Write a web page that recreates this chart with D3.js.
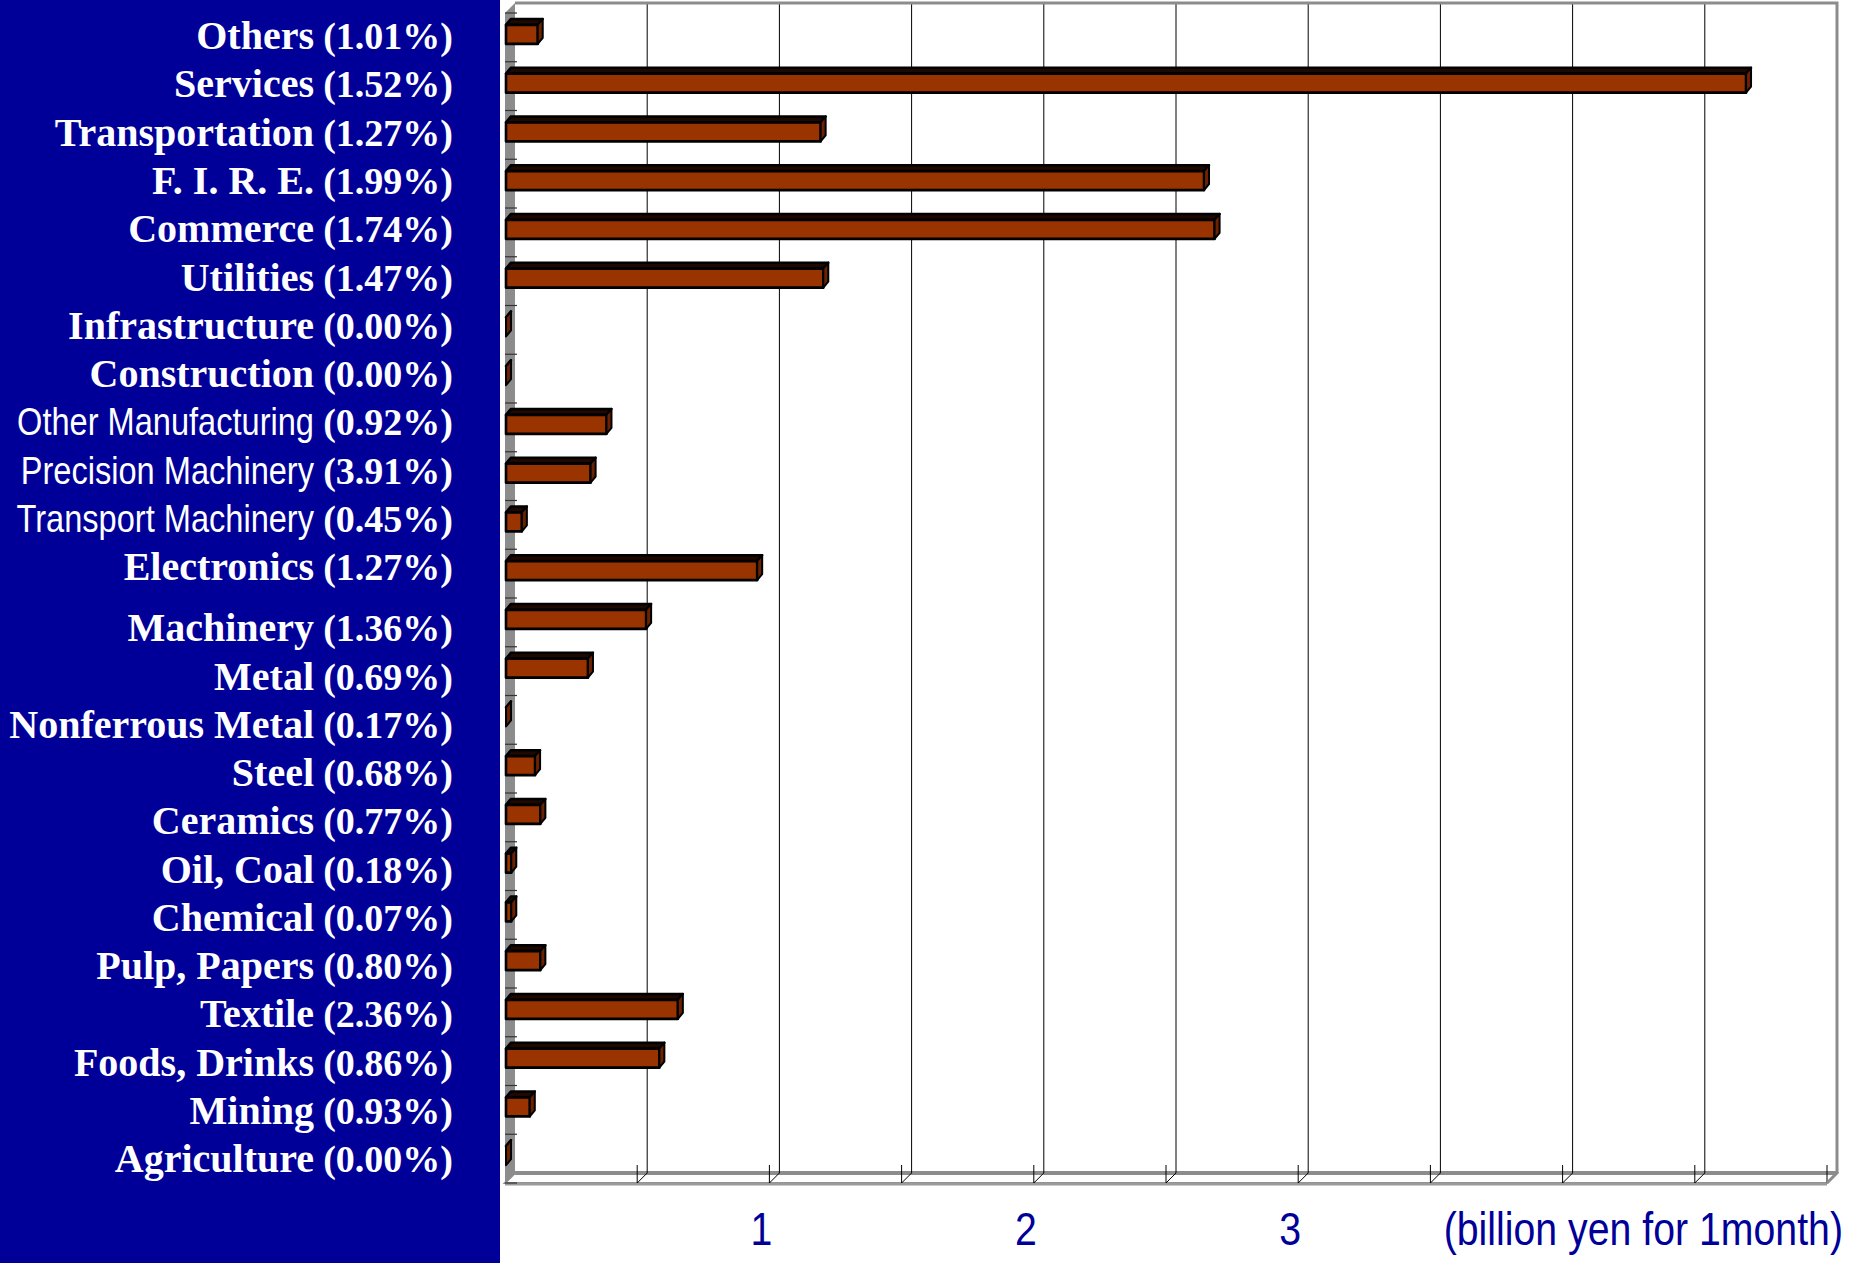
<!DOCTYPE html>
<html>
<head>
<meta charset="utf-8">
<script src="https://cdn.jsdelivr.net/npm/d3@7"></script>
<style>
  html, body { margin: 0; padding: 0; background: #fff; }
  svg { display: block; }
</style>
</head>
<body>
<svg id="chart" width="1857" height="1263"></svg>
<script>
// Industries, top to bottom
const categories = [
  "Others", "Services", "Transportation", "F. I. R. E.", "Commerce", "Utilities",
  "Infrastructure", "Construction", "Other Manufacturing", "Precision Machinery",
  "Transport Machinery", "Electronics", "Machinery", "Metal", "Nonferrous Metal",
  "Steel", "Ceramics", "Oil, Coal", "Chemical", "Pulp, Papers", "Textile",
  "Foods, Drinks", "Mining", "Agriculture"
];

// Amount per industry (billion yen for 1 month)
const values = [
  0.12, 4.69, 1.19, 2.64, 2.68, 1.20,
  0.00, 0.00, 0.38, 0.32,
  0.06, 0.95, 0.53, 0.31, 0.00,
  0.11, 0.13, 0.02, 0.02, 0.13, 0.65,
  0.58, 0.09, 0.00
];

// Share figures printed next to each industry name (%)
const shares = [
  "1.01", "1.52", "1.27", "1.99", "1.74", "1.47",
  "0.00", "0.00", "0.92", "3.91",
  "0.45", "1.27", "1.36", "0.69", "0.17",
  "0.68", "0.77", "0.18", "0.07", "0.80", "2.36",
  "0.86", "0.93", "0.00"
];

// Names set in the condensed sans face
const narrowNames = ["Other Manufacturing", "Precision Machinery", "Transport Machinery"];

// Value axis
const tickLabels = [1, 2, 3];
const gridValues = [0.5, 1, 1.5, 2, 2.5, 3, 3.5, 4, 4.5];
const floorTicks = [0.5, 1, 1.5, 2, 2.5, 3, 3.5, 4, 4.5, 5];
const unitLabel = "(billion yen for 1month)";

(function draw() {
  const H = 1263;
  const navy = "#000099";
  const wallGray = "#8c8c8c";
  const serif = "'Liberation Serif', 'Times New Roman', Times, serif";
  const narrow = "'Liberation Sans Narrow', 'Arial Narrow', 'Liberation Sans', Arial, sans-serif";

  const svg = d3.select("#chart");

  // Left navy panel that carries the category names
  svg.append("rect")
    .attr("x", 0).attr("y", 0).attr("width", 500).attr("height", H)
    .attr("fill", navy);

  // Scales on the front plane of the 3-D box
  const yTop = 13, yBottom = 1183;
  const x = d3.scaleLinear().domain([0, 5]).range([505, 1827]);
  const y = d3.scaleBand().domain(categories).range([yTop, yBottom]);
  const DX = 10, DY = -10;          // depth of the box
  const BDX = 5, BDY = -6, BH = 19; // depth and height of each bar

  const frame = svg.append("g");

  // Back wall
  frame.append("rect")
    .attr("x", x(0) + DX).attr("y", yTop + DY)
    .attr("width", x(5) - x(0)).attr("height", yBottom - yTop)
    .attr("fill", "#fff");

  // Floor
  frame.append("path")
    .attr("d", `M${x(0)},${yBottom} L${x(0) + DX},${yBottom + DY} L${x(5) + DX},${yBottom + DY} L${x(5)},${yBottom} Z`)
    .attr("fill", "#fff").attr("stroke", wallGray).attr("stroke-width", 2);
  frame.append("line")
    .attr("x1", x(0) + DX).attr("x2", x(5) + DX)
    .attr("y1", yBottom + DY).attr("y2", yBottom + DY)
    .attr("stroke", wallGray).attr("stroke-width", 4);
  frame.append("line")
    .attr("x1", x(0)).attr("x2", x(5))
    .attr("y1", yBottom + 1).attr("y2", yBottom + 1)
    .attr("stroke", "#9a9a9a").attr("stroke-width", 3);

  // Gridlines on the back wall and their run across the floor
  frame.selectAll("line.grid").data(gridValues).join("line")
    .attr("class", "grid")
    .attr("x1", d => x(d) + DX).attr("x2", d => x(d) + DX)
    .attr("y1", yTop + DY).attr("y2", yBottom + DY)
    .attr("stroke", "#000").attr("stroke-width", 1);
  frame.selectAll("line.floorgrid").data(floorTicks).join("line")
    .attr("class", "floorgrid")
    .attr("x1", d => x(d) + DX).attr("x2", d => x(d))
    .attr("y1", yBottom + DY).attr("y2", yBottom)
    .attr("stroke", "#000").attr("stroke-width", 1);
  frame.selectAll("line.tick").data(floorTicks).join("line")
    .attr("class", "tick")
    .attr("x1", d => x(d)).attr("x2", d => x(d))
    .attr("y1", yBottom - 18).attr("y2", yBottom)
    .attr("stroke", "#000").attr("stroke-width", 1);

  // Top and right edges of the back wall
  frame.append("path")
    .attr("d", `M${x(0) + DX},${yTop + DY} L${x(5) + DX},${yTop + DY} L${x(5) + DX},${yBottom + DY} L${x(5)},${yBottom}`)
    .attr("fill", "none").attr("stroke", wallGray).attr("stroke-width", 3);

  // Left side wall
  frame.append("path")
    .attr("d", `M${x(0)},${yTop} L${x(0) + DX},${yTop + DY} L${x(0) + DX},${yBottom + DY} L${x(0)},${yBottom} Z`)
    .attr("fill", wallGray);

  // Category tick marks on the side wall
  const boundaries = categories.map(c => y(c)).concat([yBottom]);
  frame.selectAll("line.cat").data(boundaries).join("line")
    .attr("class", "cat")
    .attr("x1", x(0)).attr("x2", x(0) + 12)
    .attr("y1", d => d).attr("y2", d => d)
    .attr("stroke", "#333").attr("stroke-width", 1.2);

  // Bars as small boxes: front face, top face, end face
  const bars = svg.append("g")
    .selectAll("g.bar")
    .data(categories.map((c, i) => ({ name: c, value: values[i] })))
    .join("g")
    .attr("class", "bar");

  const barGeom = d => {
    const y0 = y(d.name) + y.bandwidth() / 2 - 3 - BH / 2;
    const x0 = x(0) + 1, x1 = x(d.value) + 1;
    return { x0, x1, y0 };
  };

  bars.append("path")
    .attr("d", d => {
      const g = barGeom(d);
      return `M${g.x0},${g.y0} L${g.x0 + BDX},${g.y0 + BDY} L${g.x1 + BDX},${g.y0 + BDY} L${g.x1},${g.y0} Z`;
    })
    .attr("fill", "#1e0800").attr("stroke", "#000").attr("stroke-width", 2.5)
    .attr("stroke-linejoin", "round");

  bars.append("rect")
    .attr("x", d => barGeom(d).x0)
    .attr("y", d => barGeom(d).y0)
    .attr("width", d => barGeom(d).x1 - barGeom(d).x0)
    .attr("height", BH)
    .attr("fill", "#993300").attr("stroke", "#000").attr("stroke-width", 2.6)
    .attr("stroke-linejoin", "round");

  bars.append("path")
    .attr("d", d => {
      const g = barGeom(d);
      return `M${g.x1},${g.y0} L${g.x1 + BDX},${g.y0 + BDY} L${g.x1 + BDX},${g.y0 + BH + BDY} L${g.x1},${g.y0 + BH} Z`;
    })
    .attr("fill", "#6a2200").attr("stroke", "#000").attr("stroke-width", 2)
    .attr("stroke-linejoin", "round");

  // Horizontal squeeze that brings the sans face to a narrow typeface's width
  const probe = svg.append("text")
    .attr("font-family", narrow).attr("font-size", 39)
    .text("Other Manufacturing");
  const condense = Math.min(1, 297 / probe.node().getComputedTextLength());
  probe.remove();

  // Category names sit in two blocks of twelve lines each
  const labelPitch = 48.26, labelFirst = 36.7, blockGap = 13;
  const labelY = i => labelFirst + i * labelPitch + (i >= 12 ? blockGap : 0) + 12.5;

  const labels = svg.append("g")
    .selectAll("g.label")
    .data(categories.map((c, i) => ({ name: c, share: shares[i], i })))
    .join("g")
    .attr("class", "label");

  labels.append("text")
    .attr("transform", d => narrowNames.includes(d.name)
      ? `translate(314,${labelY(d.i)}) scale(${condense},1)`
      : `translate(314,${labelY(d.i)})`)
    .attr("text-anchor", "end")
    .attr("fill", "#fff")
    .attr("font-family", d => narrowNames.includes(d.name) ? narrow : serif)
    .attr("font-weight", d => narrowNames.includes(d.name) ? "normal" : "bold")
    .attr("font-size", d => narrowNames.includes(d.name) ? 39 : 40)
    .text(d => d.name);

  labels.append("text")
    .attr("x", 453)
    .attr("y", d => labelY(d.i))
    .attr("text-anchor", "end")
    .attr("fill", "#fff")
    .attr("font-family", serif)
    .attr("font-weight", "bold")
    .attr("font-size", 38)
    .text(d => `(${d.share}%)`);

  // Value axis labels
  svg.append("g")
    .selectAll("text")
    .data(tickLabels)
    .join("text")
    .attr("transform", d => `translate(${x(d) - 8},1245) scale(${condense},1)`)
    .attr("text-anchor", "middle")
    .attr("fill", navy)
    .attr("font-family", narrow)
    .attr("font-size", 47)
    .text(d => d);

  svg.append("text")
    .attr("transform", `translate(1843,1245) scale(${condense},1)`)
    .attr("text-anchor", "end")
    .attr("fill", navy)
    .attr("font-family", narrow)
    .attr("font-size", 47)
    .text(unitLabel);
})();
</script>
</body>
</html>
